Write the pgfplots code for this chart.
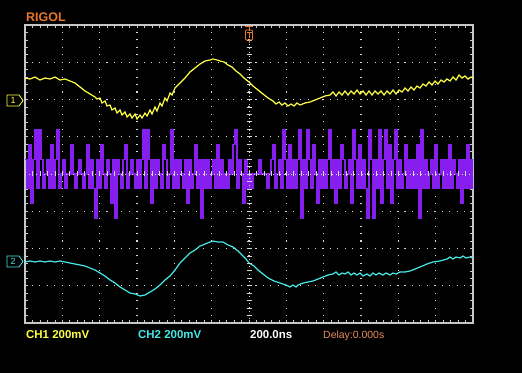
\documentclass[border=0pt]{standalone}
\usepackage{pgfplots}
\pgfplotsset{compat=1.18}
\usepackage{fontspec}
\setmainfont{Liberation Sans}
\definecolor{chone}{RGB}{255,255,70}
\definecolor{chtwo}{RGB}{70,232,232}
\definecolor{digpurple}{RGB}{135,30,240}
\definecolor{framegray}{RGB}{200,200,200}
\definecolor{gdot}{RGB}{215,215,215}
\definecolor{rorange}{RGB}{235,120,40}
\definecolor{dorange}{RGB}{232,140,90}
\begin{document}
\begin{tikzpicture}
\fill[black] (0,0) rectangle (522bp,373bp);
\begin{axis}[
  at={(25bp,50bp)}, anchor=south west,
  width=448bp, height=298bp, scale only axis,
  xmin=0, xmax=12, ymin=-4, ymax=4,
  axis line style={draw=framegray, line width=1.6bp},
  xtick={0,...,12}, ytick={-4,...,4},
  xticklabels={}, yticklabels={},
  minor tick num=4,
  tick align=inside,
  major tick length=3bp, minor tick length=3bp,
  every tick/.style={draw=framegray, line width=0.7bp},
  grid=major,
  major grid style={draw=gdot, line width=1.1bp, dash pattern=on 1.1bp off 6.35bp, dash phase=0.55bp},
]
% digital/noise channel, levels in steps of 0.4 div around the centre line
\addplot[draw=digpurple, line width=1.15bp, const plot, mark=none] table[x expr=\coordindex*2/37.33, y expr=\thisrowno{0}*0.4] {
1
-1
2
-2
1
3
-1
3
1
-1
0
1
-1
2
-1
1
3
-1
0
1
-1
0
0
2
0
-1
0
1
0
-1
0
2
-1
1
-1
-3
1
-1
2
0
-1
1
0
-2
1
-3
1
0
-1
1
2
-1
0
1
0
-1
1
-1
1
3
-1
3
1
-2
1
-1
1
0
-1
2
1
-1
0
3
-1
1
-1
1
0
-1
1
-2
1
-1
0
2
-1
1
-3
1
-1
1
-1
0
1
-1
2
-1
1
-1
0
-1
1
0
2
3
-1
1
0
-2
1
-1
0
-1
0
0
0
1
0
0
0
-1
0
1
2
-1
0
1
-1
3
1
-1
2
-1
1
-1
1
3
-3
1
-1
3
1
-1
2
0
-2
1
-1
1
-1
1
3
-1
1
-2
1
-1
2
1
-1
0
1
-2
3
1
-1
2
-1
1
-1
-3
3
1
-3
1
-1
3
-2
1
3
-1
2
-2
1
3
-1
1
-1
0
2
-1
1
-1
1
-1
2
-3
3
-1
1
-1
0
1
-1
2
-1
0
1
-1
1
-1
2
-1
1
0
-1
1
-2
1
-1
2
-1
1
-1
};
% CH1 (screen pixels converted to divisions)
\addplot[draw=chone, line width=1.2bp, mark=none] table[x expr=(\thisrowno{0}-25)/37.33, y expr=(174-\thisrowno{1})/37.25] {
25 78
30 79
35 77
40 80
45 78
50 79
55 77
60 80
65 79
70 81
75 83
80 87
85 91
90 94
95 97
97 99
100 98
102 103
105 101
107 106
110 105
112 110
115 108
117 113
120 110
122 115
125 112
127 117
130 114
132 118
135 114
137 119
140 115
142 118
145 113
147 116
150 110
152 114
155 107
157 111
160 103
162 106
165 98
167 101
170 93
172 95
175 88
180 83
185 78
190 72
195 68
200 64
205 61
210 60
213 59
217 60
220 61
224 62
228 65
232 67
236 71
240 74
244 78
249 82
253 86
258 90
263 94
268 98
273 101
276 104
279 102
282 105
285 103
288 106
291 104
294 106
297 103
300 105
305 103
310 102
315 100
320 98
325 96
330 95
333 92
336 96
339 92
342 95
345 91
348 95
351 91
354 94
357 90
360 94
363 91
366 95
369 91
372 95
375 91
378 94
381 91
384 95
387 91
390 94
393 90
396 94
399 90
402 92
405 88
408 91
411 87
414 90
417 86
420 88
423 84
426 86
429 82
432 85
435 81
438 84
441 80
444 82
447 79
450 81
453 77
456 80
459 75
462 78
465 76
468 79
471 77
473 78
};
% CH2
\addplot[draw=chtwo, line width=1.2bp, mark=none] table[x expr=(\thisrowno{0}-25)/37.33, y expr=(174-\thisrowno{1})/37.25] {
25 262
30 261
35 262
40 261
45 262
50 261
55 262
60 261
65 262
70 263
75 264
80 265
85 266
90 268
95 270
100 273
105 276
110 280
115 283
120 287
125 290
130 293
135 294
140 296
145 295
150 292
155 289
160 285
165 280
170 276
175 270
180 263
185 258
190 253
195 250
200 246
205 244
210 242
213 241
218 242
223 242
228 245
233 247
238 251
242 255
246 259
249 263
254 266
258 270
263 274
268 278
274 281
280 283
286 285
290 287
293 285
296 287
298 285
303 283
308 282
313 281
318 279
323 277
328 275
333 274
336 272
339 275
342 273
345 274
348 272
351 275
354 273
357 275
360 273
363 276
367 274
370 276
373 273
376 275
379 273
383 275
386 273
390 275
393 273
396 274
400 272
405 272
410 271
415 269
420 267
427 264
433 262
440 261
447 259
450 257
453 259
456 257
460 258
463 256
466 258
470 257
473 258
};
\end{axis}
\begin{scope}[x=1bp, y=1bp]
% centre lines with fine ticks
\draw[gdot, line width=0.8bp, dash pattern=on 1bp off 2.7bp] (249,50) -- (249,348);
\draw[gdot, line width=0.8bp, dash pattern=on 1bp off 2.7bp] (25,199) -- (473,199);
\foreach \k in {1,...,39} {
  \draw[gdot, line width=0.7bp] (246.5,{50+\k*7.45}) -- (251.5,{50+\k*7.45});
}
\foreach \k in {1,...,59} {
  \draw[gdot, line width=0.7bp] ({25+\k*7.4667},196.5) -- ({25+\k*7.4667},201.5);
}
% texts
\node[anchor=base west, inner sep=0, text=rorange, font=\fontsize{12.5}{14}\selectfont\bfseries] at (26,352) {RIGOL};
\node[anchor=base west, inner sep=0, text=chone, font=\fontsize{11.5}{13}\selectfont\bfseries] at (26,35) {CH1 200mV};
\node[anchor=base west, inner sep=0, text=chtwo, font=\fontsize{11.5}{13}\selectfont\bfseries] at (138,35) {CH2 200mV};
\node[anchor=base west, inner sep=0, text=white, font=\fontsize{11.5}{13}\selectfont\bfseries] at (250,35) {200.0ns};
\node[anchor=base west, inner sep=0, text=dorange, font=\fontsize{10.5}{12}\selectfont] at (323,35) {Delay:0.000s};
% channel markers
\draw[chone, line width=0.8bp] (7,267) -- (19,267) -- (23,272.5) -- (19,278) -- (7,278) -- cycle;
\node[text=chone, inner sep=0, font=\fontsize{9}{10}\selectfont] at (13,272.5) {1};
\draw[chtwo, line width=0.8bp] (7,106) -- (19,106) -- (23,111.5) -- (19,117) -- (7,117) -- cycle;
\node[text=chtwo, inner sep=0, font=\fontsize{9}{10}\selectfont] at (13,111.5) {2};
% trigger marker
\draw[rorange, line width=0.8bp, rounded corners=1bp] (245.5,333) rectangle (252.5,343);
\draw[rorange, line width=0.8bp] (245,347) -- (253,347);
\draw[rorange, line width=0.8bp] (249,347) -- (249,343);
\draw[rorange, line width=0.8bp] (246.5,340.5) -- (251.5,340.5) (249,340.5) -- (249,335);
\draw[rorange, line width=0.8bp] (249,333) -- (249,330);
\end{scope}
\end{tikzpicture}
\end{document}
